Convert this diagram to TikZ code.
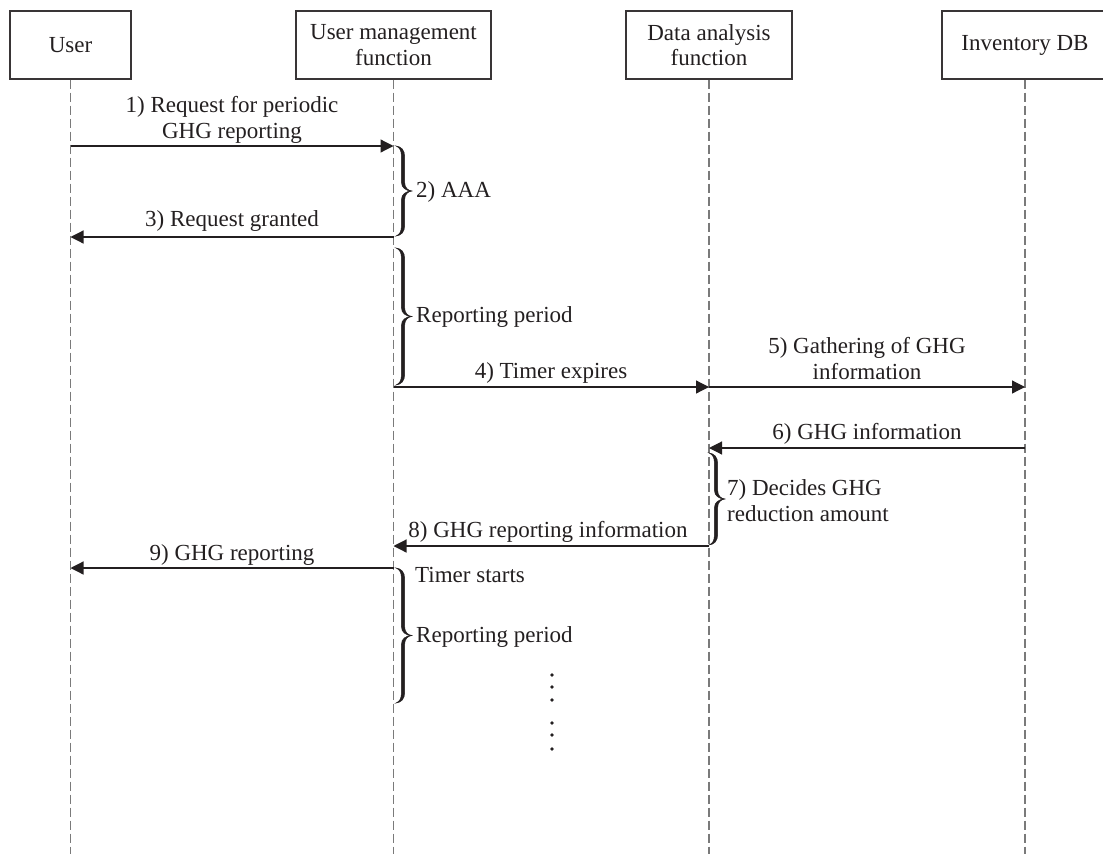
\documentclass[tikz,border=0pt]{standalone}
\usepackage{fontspec}
\setmainfont{Liberation Serif}
\usetikzlibrary{arrows.meta}
\definecolor{ink}{HTML}{231F20}
\definecolor{lifegray}{HTML}{7A7A7A}
% Tapered right curly brace beside a lifeline: #1 = lifeline x, #2 = top y, #3 = bottom y
\newcommand{\spanbrace}[3]{%
  \pgfmathsetmacro{\ymid}{(#2+#3)/2}%
  \filldraw[ink, line width=0.5pt]
    (#1+2,#2)
    .. controls (#1+7,#2+0.5) and (#1+10.6,#2+4) .. (#1+10.6,#2+10)
    -- (#1+10.6,\ymid-9)
    .. controls (#1+10.6,\ymid-3) and (#1+14,\ymid-0.5) .. (#1+18,\ymid)
    .. controls (#1+14,\ymid+0.5) and (#1+10.6,\ymid+3) .. (#1+10.6,\ymid+9)
    -- (#1+10.6,#3-10)
    .. controls (#1+10.6,#3-4) and (#1+7,#3-0.5) .. (#1+2,#3)
    .. controls (#1+6,#3-1.5) and (#1+7.4,#3-5) .. (#1+7.4,#3-10)
    -- (#1+7.4,\ymid+9)
    .. controls (#1+7.4,\ymid+3) and (#1+12,\ymid+0.3) .. (#1+17.5,\ymid)
    .. controls (#1+12,\ymid-0.3) and (#1+7.4,\ymid-3) .. (#1+7.4,\ymid-9)
    -- (#1+7.4,#2+10)
    .. controls (#1+7.4,#2+5) and (#1+6,#2+1.5) .. (#1+2,#2)
    -- cycle;}
\begin{document}
\begin{tikzpicture}[x=1pt,y=-1pt,
  every node/.style={font=\fontsize{23}{25.5}\selectfont, text=ink, inner sep=0pt},
  actor/.style={draw=ink!90, line width=1.2pt, minimum height=68pt, align=center},
  lifeline/.style={draw=lifegray, line width=1.1pt, dash pattern=on 9pt off 4pt},
  msg/.style={draw=ink, line width=1.2pt, -{Triangle[length=13pt,width=13pt]}},
  lbl/.style={anchor=base, align=center},
  note/.style={anchor=base west, align=left}]
\clip (0,0) rectangle (1103,854);

% participants
\node[actor, minimum width=121pt] (u)   at (70.5,45)  {User};
\node[actor, minimum width=195pt] (m)   at (393.5,45) {User management\\function};
\node[actor, minimum width=166pt] (d)   at (709,45)   {Data analysis\\function};
\node[actor, minimum width=166pt] (inv) at (1025,45)  {Inventory DB};

% lifelines
\coordinate (uend)   at (70.5,854);
\coordinate (mend)   at (393.5,854);
\coordinate (dend)   at (709,854);
\coordinate (invend) at (1025,854);
\draw[lifeline] (u.south)   -- (uend);
\draw[lifeline] (m.south)   -- (mend);
\draw[lifeline] (d.south)   -- (dend);
\draw[lifeline] (inv.south) -- (invend);

% messages
\draw[msg] (u.south |- 0,146) -- (m.south |- 0,146);
\node[lbl] (t1) at (232,138) {1) Request for periodic\\GHG reporting};
\draw[msg] (m.south |- 0,237) -- (u.south |- 0,237);
\node[lbl] (t3) at (232,226) {3) Request granted};
\draw[msg] (m.south |- 0,387) -- (d.south |- 0,387);
\node[lbl] (t4) at (551,378) {4) Timer expires};
\draw[msg] (d.south |- 0,387) -- (inv.south |- 0,387);
\node[lbl] (t5) at (867,379) {5) Gathering of GHG\\information};
\draw[msg] (inv.south |- 0,448) -- (d.south |- 0,448);
\node[lbl] (t6) at (867,439) {6) GHG information};
\draw[msg] (d.south |- 0,546) -- (m.south |- 0,546);
\node[lbl] (t8) at (548,537) {8) GHG reporting information};
\draw[msg] (m.south |- 0,568) -- (u.south |- 0,568);
\node[lbl] (t9) at (232,560) {9) GHG reporting};

% activity braces
\spanbrace{394}{146}{236}
\node[note] (aaa) at (416,197) {2) AAA};
\spanbrace{394}{248}{385}
\node[note] (rp1) at (416,322) {Reporting period};
\spanbrace{707}{453}{545}
\node[note] (dec) at (727,521) {7) Decides GHG\\reduction amount};
\spanbrace{394}{568}{703}
\node[note] (ts)  at (415,582) {Timer starts};
\node[note] (rp2) at (416,642) {Reporting period};

% continuation dots
\foreach \yy in {675,687,700,723,735,749}
  \fill[ink] (552,\yy) circle (1.9);
\end{tikzpicture}
\end{document}
